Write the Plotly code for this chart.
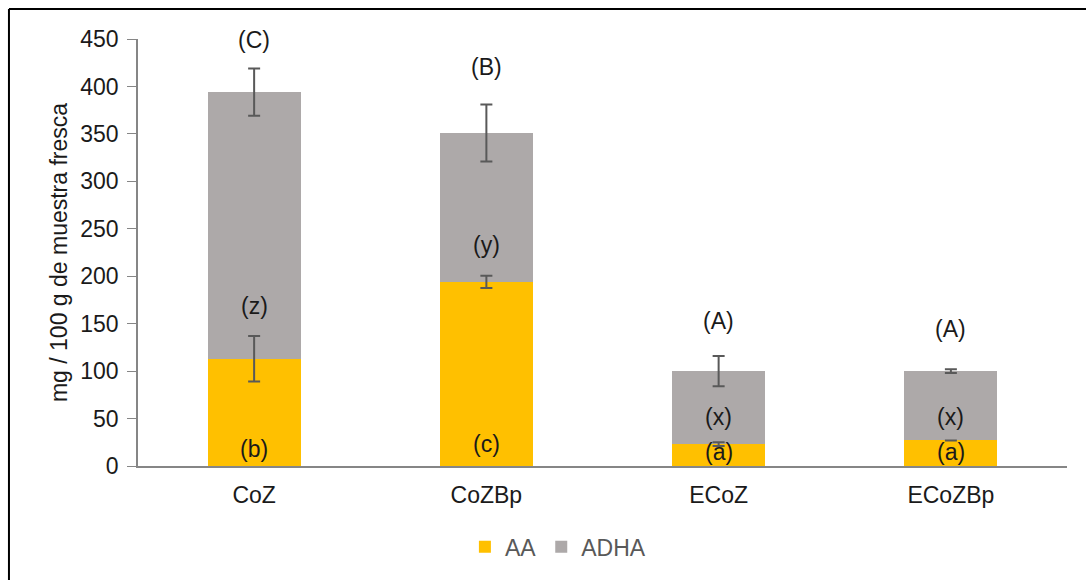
import plotly.graph_objects as go

# Vitamin C content by sample
categories = ["CoZ", "CoZBp", "ECoZ", "ECoZBp"]
aa = [113, 194, 23, 27]            # ascorbic acid
adha = [281, 157, 77, 73]          # dehydroascorbic acid
aa_err = [24, 6.5, 2, 0]
total_err = [25, 30, 16, 2]

# significance letters and where they sit (y in data units)
aa_letters = ["(b)", "(c)", "(a)", "(a)"]
aa_letter_y = [18, 23, 15, 15]
adha_letters = ["(z)", "(y)", "(x)", "(x)"]
adha_letter_y = [169, 233, 52, 52]
total_letters = ["(C)", "(B)", "(A)", "(A)"]
total_letter_y = [449, 420, 153, 144]

AA_COLOR = "#FFC000"
ADHA_COLOR = "#ADA9A9"
ERR_COLOR = "#595959"
TEXT_COLOR = "#1A1A1A"
FONT = "Liberation Sans, Arial, sans-serif"

totals = [a + d for a, d in zip(aa, adha)]

fig = go.Figure()
fig.add_trace(go.Bar(x=categories, y=aa, name="AA", marker_color=AA_COLOR,
                     marker_line_width=0))
fig.add_trace(go.Bar(x=categories, y=adha, name="ADHA", marker_color=ADHA_COLOR,
                     marker_line_width=0))

# error bars drawn above both bar layers
err_style = dict(type="data", color=ERR_COLOR, thickness=2, width=6, visible=True)
fig.add_trace(go.Scatter(x=categories, y=aa, mode="markers",
                         marker=dict(opacity=0, size=1), showlegend=False,
                         hoverinfo="skip",
                         error_y=dict(array=aa_err, **err_style)))
fig.add_trace(go.Scatter(x=categories, y=totals, mode="markers",
                         marker=dict(opacity=0, size=1), showlegend=False,
                         hoverinfo="skip",
                         error_y=dict(array=total_err, **err_style)))

annotations = []
for labels, ys in ((aa_letters, aa_letter_y), (adha_letters, adha_letter_y),
                   (total_letters, total_letter_y)):
    for cat, lab, yv in zip(categories, labels, ys):
        annotations.append(dict(x=cat, y=yv, text=lab, showarrow=False,
                                xref="x", yref="y",
                                font=dict(family=FONT, size=23, color=TEXT_COLOR)))

# outer frame (left and top edges visible)
frame = dict(color="#000000", width=2)
shapes = [
    dict(type="line", xref="paper", yref="paper", x0=-0.1389, x1=-0.1389,
         y0=1.07, y1=-0.30, line=frame),
    dict(type="line", xref="paper", yref="paper", x0=-0.1389, x1=1.03,
         y0=1.07, y1=1.07, line=frame),
]

fig.update_layout(
    width=1086, height=580,
    margin=dict(l=138, r=19, t=39, b=112),
    barmode="stack", bargap=0.6,
    plot_bgcolor="white", paper_bgcolor="white",
    font=dict(family=FONT, size=23, color=TEXT_COLOR),
    showlegend=True,
    legend=dict(orientation="h", x=0.452, xanchor="center", y=-0.189,
                yanchor="middle", font=dict(family=FONT, size=23, color="#595959"),
                traceorder="normal"),
    annotations=annotations,
    shapes=shapes,
    xaxis=dict(showline=True, linecolor="#868686", linewidth=1.5,
               ticks="", tickfont=dict(size=23, color=TEXT_COLOR),
               ticklabelstandoff=8,
               showgrid=False, zeroline=False),
    yaxis=dict(range=[0, 450], tickmode="linear", tick0=0, dtick=50,
               showline=True, linecolor="#868686", linewidth=1.5,
               ticks="outside", ticklen=9, tickcolor="#868686",
               tickfont=dict(size=23, color=TEXT_COLOR),
               ticklabelstandoff=4,
               showgrid=False, zeroline=False,
               title=dict(text="mg / 100 g de muestra fresca",
                          font=dict(size=23, color=TEXT_COLOR), standoff=6)),
)

fig.write_html("out.html")
